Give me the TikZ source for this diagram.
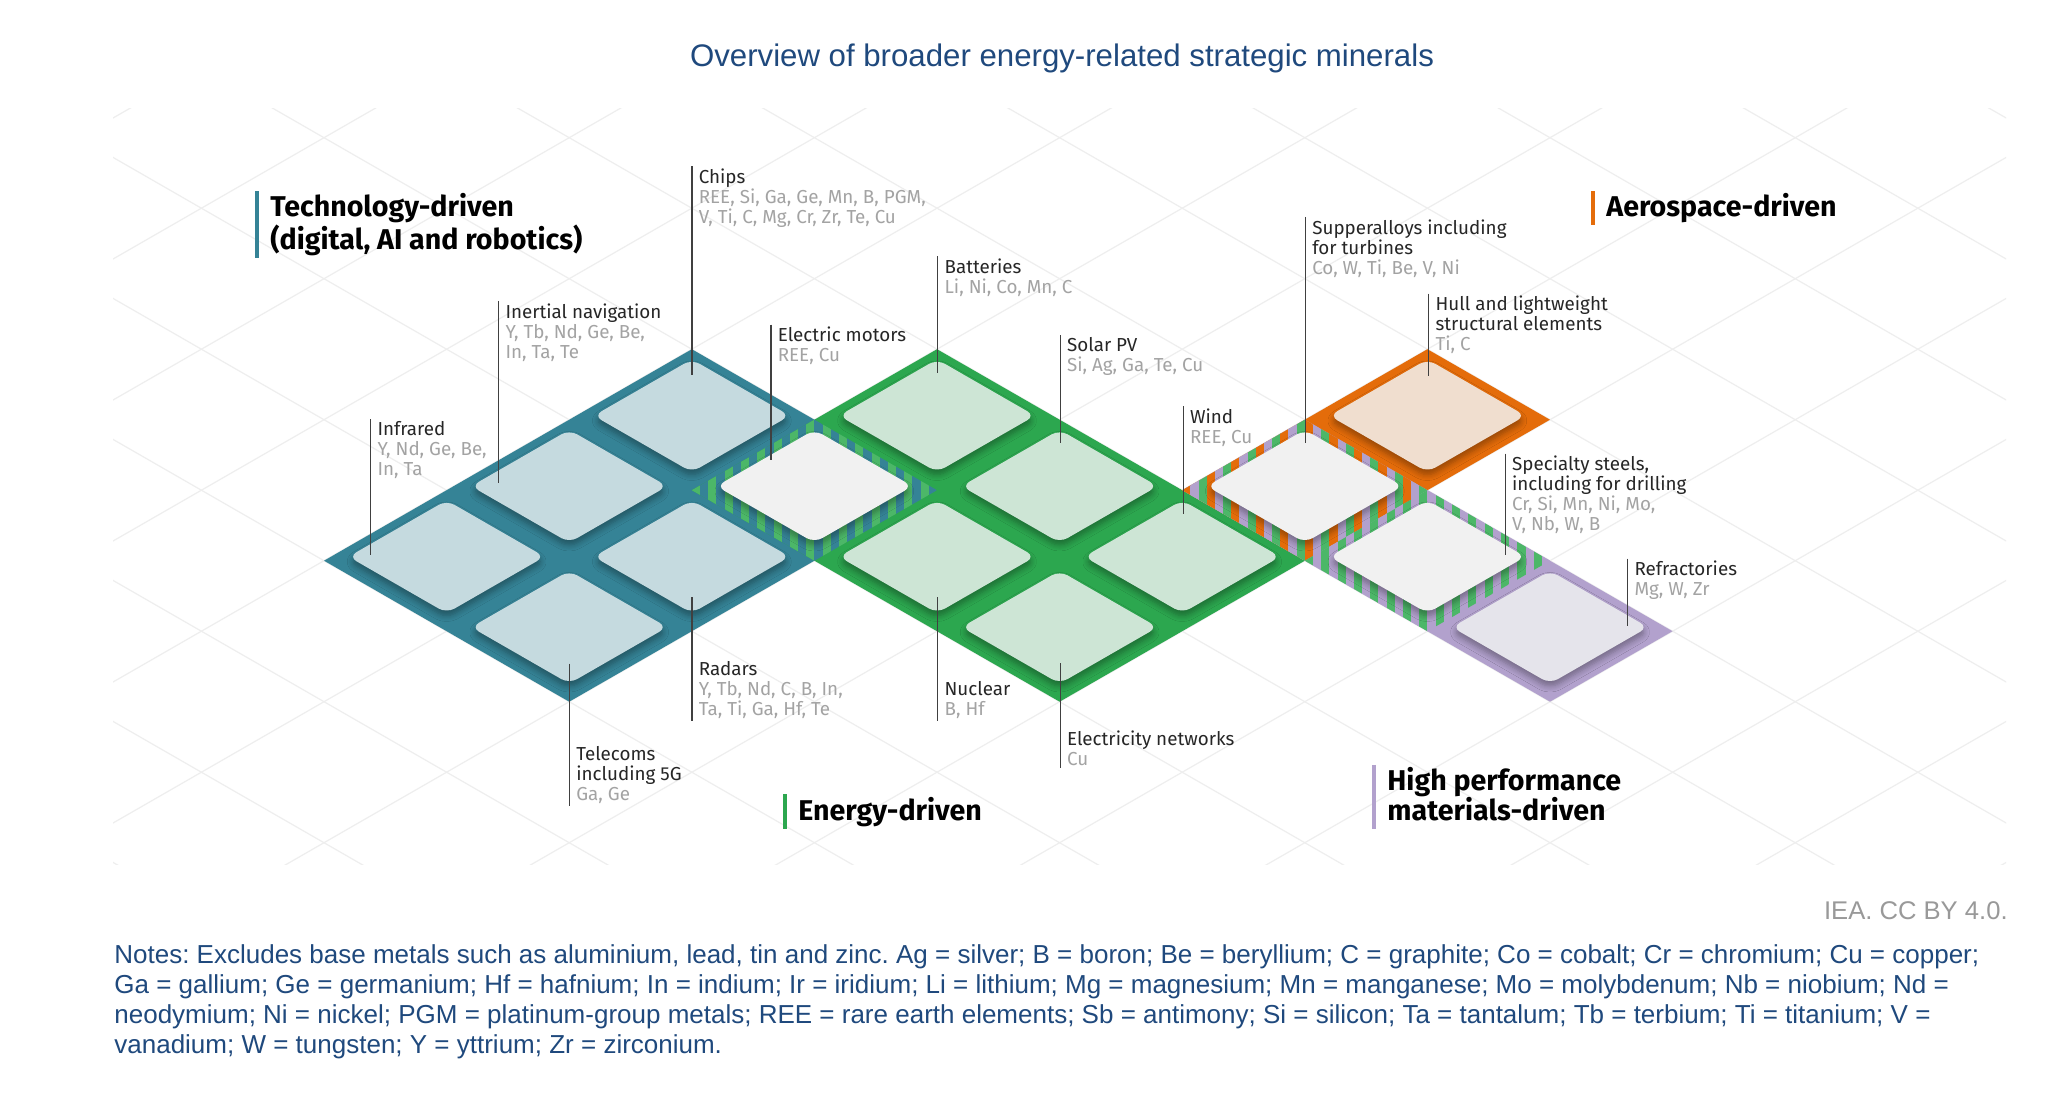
\documentclass[tikz,border=0pt]{standalone}
\usepackage{fontspec}
\setmainfont{Liberation Sans}
\newfontfamily\lblfont{Fira Sans}
\usetikzlibrary{shadows.blur}
\frenchspacing

\definecolor{bandblue}{HTML}{358396}
\definecolor{tileblue}{HTML}{C5DADF}
\definecolor{bandgreen}{HTML}{2CA74F}
\definecolor{tilegreen}{HTML}{CDE5D5}
\definecolor{stripegreen}{HTML}{4CB768}
\definecolor{bandorange}{HTML}{E46C0A}
\definecolor{tileorange}{HTML}{F0DECF}
\definecolor{bandpurple}{HTML}{B2A1CD}
\definecolor{tilepurple}{HTML}{E5E4EB}
\definecolor{tilewhite}{HTML}{F1F1F1}
\definecolor{ieablue}{HTML}{1F497D}
\definecolor{mingray}{HTML}{A3A3A3}
\definecolor{labeltext}{HTML}{262626}
\definecolor{gridgray}{HTML}{EEEEEE}

\def\isoOX{324}
\def\isoOY{560.7}
\def\isoSX{122.6}
\def\isoSY{70.5}
\def\tileM{0.1}
\def\tileUp{4}

\newcommand{\mgr}{\color{mingray}}

\newcommand{\isotile}[4]{%
  \coordinate (#1-l) at ({\isoOX+\isoSX*(#2+#3+2*\tileM)},{\isoOY-\isoSY*(#2-#3)-\tileUp});
  \coordinate (#1-t) at ({\isoOX+\isoSX*(#2+#3+1)},{\isoOY-\isoSY*(#2-#3+1-2*\tileM)-\tileUp});
  \coordinate (#1-r) at ({\isoOX+\isoSX*(#2+#3+2-2*\tileM)},{\isoOY-\isoSY*(#2-#3)-\tileUp});
  \coordinate (#1-b) at ({\isoOX+\isoSX*(#2+#3+1)},{\isoOY-\isoSY*(#2-#3-1+2*\tileM)-\tileUp});
  \fill[tileshape,fill=#4] (#1-l) -- (#1-t) -- (#1-r) -- (#1-b) -- cycle;
}

\begin{document}
\begin{tikzpicture}[x=0.5pt,y=-0.5pt,
  gridline/.style={draw=gridgray, line width=0.6pt},
  tileshape/.style={rounded corners=4.5pt,
    blur shadow={shadow xshift=0pt, shadow yshift=-2.5pt, shadow blur radius=3pt,
      shadow blur steps=6, shadow opacity=35}},
  leader/.style={draw=black!75, line width=0.6pt},
  lbl/.style={inner xsep=3.2pt, inner ysep=1pt, anchor=base west,
    font=\lblfont\fontsize{9.4}{10}\selectfont, text=labeltext},
  head/.style={inner xsep=6.5pt, inner ysep=1pt, anchor=base west,
    font=\lblfont\bfseries\fontsize{14.3}{15}\selectfont, text=black},
  headbar/.style={line width=2pt},
]
\useasboundingbox (0,0) rectangle (2048,1093);
\fill[white] (0,0) rectangle (2048,1093);

% grid coordinates
\foreach \a in {0,...,6}{\foreach \b in {0,...,6}{%
  \coordinate (g\a-\b) at ({\isoOX+\isoSX*(\a+\b)},{\isoOY-\isoSY*(\a-\b)});}}

% background isometric grid
\begin{scope}
  \clip (113,108) rectangle (2006,864);
  \foreach \k in {-6,...,12}{%
    \draw[gridline] ({\isoOX+\isoSX*(\k-6)},{\isoOY-\isoSY*(\k+6)}) -- ({\isoOX+\isoSX*(\k+14)},{\isoOY-\isoSY*(\k-14)});
    \draw[gridline] ({\isoOX+\isoSX*(\k-6)},{\isoOY+\isoSY*(\k+6)}) -- ({\isoOX+\isoSX*(\k+14)},{\isoOY-\isoSY*(14-\k)});
  }
\end{scope}

% region bands
\fill[bandblue] (g0-0) -- (g3-0) -- (g3-2) -- (g0-2) -- cycle;
\fill[bandgreen] (g2-1) -- (g4-1) -- (g4-4) -- (g2-4) -- cycle;
\fill[bandorange] (g4-3) -- (g6-3) -- (g6-4) -- (g4-4) -- cycle;
\fill[bandpurple] (g4-3) -- (g5-3) -- (g5-6) -- (g4-6) -- cycle;

% striped shared cells
\begin{scope}
  \clip (g2-1) -- (g3-1) -- (g3-2) -- (g2-2) -- cycle;
  \foreach \i in {0,...,29}{%
    \pgfmathtruncatemacro\sci{mod(\i,2)}%
    \ifcase\sci\relax \def\scol{stripegreen}\or \def\scol{bandblue}\fi
    \fill[\scol] ({691.8+\i*8.1733},410) rectangle ++(8.4,160);
  }
\end{scope}
\begin{scope}
  \clip (g4-3) -- (g5-3) -- (g5-4) -- (g4-4) -- cycle;
  \foreach \i in {0,...,29}{%
    \pgfmathtruncatemacro\sci{mod(\i,3)}%
    \ifcase\sci\relax \def\scol{bandorange}\or \def\scol{bandpurple}\or \def\scol{stripegreen}\fi
    \fill[\scol] ({1182.2+\i*8.1733},410) rectangle ++(8.4,160);
  }
\end{scope}
\begin{scope}
  \clip (g4-4) -- (g5-4) -- (g5-5) -- (g4-5) -- cycle;
  \foreach \i in {0,...,29}{%
    \pgfmathtruncatemacro\sci{mod(\i,2)}%
    \ifcase\sci\relax \def\scol{stripegreen}\or \def\scol{bandpurple}\fi
    \fill[\scol] ({1304.8+\i*8.1733},480) rectangle ++(8.4,160);
  }
\end{scope}

% tiles
\isotile{infrared}{0}{0}{tileblue}
\isotile{inertial}{1}{0}{tileblue}
\isotile{chips}{2}{0}{tileblue}
\isotile{telecoms}{0}{1}{tileblue}
\isotile{radars}{1}{1}{tileblue}
\isotile{emotors}{2}{1}{tilewhite}
\isotile{batteries}{3}{1}{tilegreen}
\isotile{nuclear}{2}{2}{tilegreen}
\isotile{solar}{3}{2}{tilegreen}
\isotile{elecnet}{2}{3}{tilegreen}
\isotile{wind}{3}{3}{tilegreen}
\isotile{superalloys}{4}{3}{tilewhite}
\isotile{hull}{5}{3}{tileorange}
\isotile{steels}{4}{4}{tilewhite}
\isotile{refract}{4}{5}{tilepurple}

% leader end points inside tiles
\coordinate (e-infrared) at (370.7,555);
\coordinate (e-inertial) at (498.7,483);
\coordinate (e-chips) at (692,375);
\coordinate (e-emotors) at (771,460);
\coordinate (e-batteries) at (937.8,373);
\coordinate (e-solar) at (1060.3,443);
\coordinate (e-wind) at (1183.3,514);
\coordinate (e-superalloys) at (1305.5,443);
\coordinate (e-hull) at (1428.8,376);
\coordinate (e-steels) at (1505.3,555);
\coordinate (e-refract) at (1627.7,626);
\coordinate (e-radars) at (692,597);
\coordinate (e-telecoms) at (569.5,663.5);
\coordinate (e-nuclear) at (937.8,597);
\coordinate (e-elecnet) at (1060.3,663);

% labels above
\node[lbl] (l-infrared) at (370.7,435.7) {\vtop{\hbox{Infrared}\hbox{\mgr Y, Nd, Ge, Be,}\hbox{\mgr In, Ta}}};
\node[lbl] (l-inertial) at (498.7,318) {\vtop{\hbox{Inertial navigation}\hbox{\mgr Y, Tb, Nd, Ge, Be,}\hbox{\mgr In, Ta, Te}}};
\node[lbl] (l-chips) at (692,183.3) {\vtop{\hbox{Chips}\hbox{\mgr REE, Si, Ga, Ge, Mn, B, PGM,}\hbox{\mgr V, Ti, C, Mg, Cr, Zr, Te, Cu}}};
\node[lbl] (l-emotors) at (771,341.7) {\vtop{\hbox{Electric motors}\hbox{\mgr REE, Cu}}};
\node[lbl] (l-batteries) at (937.8,273.3) {\vtop{\hbox{Batteries}\hbox{\mgr Li, Ni, Co, Mn, C}}};
\node[lbl] (l-solar) at (1060.3,351.7) {\vtop{\hbox{Solar PV}\hbox{\mgr Si, Ag, Ga, Te, Cu}}};
\node[lbl] (l-wind) at (1183.3,423.3) {\vtop{\hbox{Wind}\hbox{\mgr REE, Cu}}};
\node[lbl] (l-superalloys) at (1305.5,234) {\vtop{\hbox{Supperalloys including}\hbox{for turbines}\hbox{\mgr Co, W, Ti, Be, V, Ni}}};
\node[lbl] (l-hull) at (1428.8,310.7) {\vtop{\hbox{Hull and lightweight}\hbox{structural elements}\hbox{\mgr Ti, C}}};
\node[lbl] (l-steels) at (1505.3,470.7) {\vtop{\hbox{Specialty steels,}\hbox{including for drilling}\hbox{\mgr Cr, Si, Mn, Ni, Mo,}\hbox{\mgr V, Nb, W, B}}};
\node[lbl] (l-refract) at (1627.7,575.7) {\vtop{\hbox{Refractories}\hbox{\mgr Mg, W, Zr}}};
% labels below
\node[lbl] (l-radars) at (692,675) {\vtop{\hbox{Radars}\hbox{\mgr Y, Tb, Nd, C, B, In,}\hbox{\mgr Ta, Ti, Ga, Hf, Te}}};
\node[lbl] (l-telecoms) at (569.5,760) {\vtop{\hbox{Telecoms}\hbox{including 5G}\hbox{\mgr Ga, Ge}}};
\node[lbl] (l-nuclear) at (937.8,695) {\vtop{\hbox{Nuclear}\hbox{\mgr B, Hf}}};
\node[lbl] (l-elecnet) at (1060.3,745) {\vtop{\hbox{Electricity networks}\hbox{\mgr Cu}}};

% leader lines
\foreach \n in {infrared,inertial,chips,emotors,batteries,solar,wind,superalloys,hull,steels,refract}{%
  \draw[leader] (l-\n.north west) -- (e-\n);
}
\foreach \n in {radars,telecoms,nuclear,elecnet}{%
  \draw[leader] (e-\n) -- (l-\n.south west);
}

% category headings
\node[head] (h-tech) at (257,216.7) {\vtop{\hbox{Technology-driven}\hbox{(digital, AI and robotics)}}};
\draw[headbar, bandblue] (h-tech.north west) -- (h-tech.south west);
\node[head] (h-aero) at (1593,216.7) {Aerospace-driven};
\draw[headbar, bandorange] (h-aero.north west) -- (h-aero.south west);
\node[head] (h-energy) at (785,820) {Energy-driven};
\draw[headbar, bandgreen] (h-energy.north west) -- (h-energy.south west);
\node[head] (h-hp) at (1374,790.5) {\vtop{\hbox{High performance}\hbox{materials-driven\vphantom{g}}}};
\draw[headbar, bandpurple] (h-hp.north west) -- (h-hp.south west);

% title, source, notes
\node[anchor=base, inner sep=0, text=ieablue, font=\fontsize{15.6}{18}\selectfont] (title) at (1062,66.7) {Overview of broader energy-related strategic minerals};
\node[anchor=base east, inner sep=0, text=black!40, font=\fontsize{12.8}{15}\selectfont] (iea) at (2008,919.3) {IEA. CC BY 4.0.};
\node[anchor=base west, inner sep=0, text=ieablue, font=\fontsize{13}{15}\selectfont] (notes) at (114,963) {\vtop{%
\hbox{Notes: Excludes base metals such as aluminium, lead, tin and zinc. Ag = silver; B = boron; Be = beryllium; C = graphite; Co = cobalt; Cr = chromium; Cu = copper;}
\hbox{Ga = gallium; Ge = germanium; Hf = hafnium; In = indium; Ir = iridium; Li = lithium; Mg = magnesium; Mn = manganese; Mo = molybdenum; Nb = niobium; Nd =}
\hbox{neodymium; Ni = nickel; PGM = platinum-group metals; REE = rare earth elements; Sb = antimony; Si = silicon; Ta = tantalum; Tb = terbium; Ti = titanium; V =}
\hbox{vanadium; W = tungsten; Y = yttrium; Zr = zirconium.}}};
\end{tikzpicture}
\end{document}
